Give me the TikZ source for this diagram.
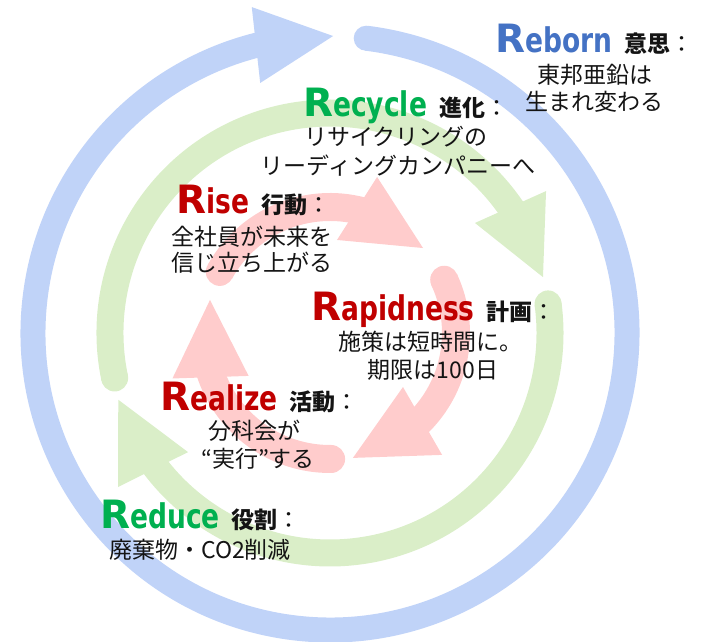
\documentclass[tikz,border=0pt]{standalone}
\usepackage{graphicx}
\usepackage{fontspec}
\newfontfamily\jpfont{Noto Sans CJK JP}
\newfontfamily\latfont{DejaVu Sans}
\definecolor{ringblue}{RGB}{192,211,248}
\definecolor{ringgreen}{RGB}{218,238,200}
\definecolor{ringred}{RGB}{255,204,204}
\definecolor{tblue}{RGB}{68,114,196}
\definecolor{tgreen}{RGB}{0,176,80}
\definecolor{tred}{RGB}{192,0,0}
\definecolor{tdark}{RGB}{20,20,20}
\newcommand\Rword[3]{{\color{#1}\latfont\bfseries\fontsize{39}{39}\selectfont R\scalebox{0.78}[1]{\fontsize{34}{34}\selectfont #2}}\hspace{12pt}{\jpfont\bfseries\fontsize{23}{23}\selectfont #3}{\jpfont\fontsize{23}{23}\selectfont ：}}
\newcommand\band[5]{%
  \draw[#1, line width=#3pt] (#4:#2) arc[start angle=#4, end angle=#5, radius=#2];
  \fill[#1] (#4:#2) circle[radius=#3/2];}
\begin{document}
\begin{tikzpicture}[x=1pt,y=1pt,
  jpline/.style={anchor=base, inner sep=0pt, font={\jpfont\fontsize{23}{23}\selectfont}, text=tdark},
  hdline/.style={anchor=base west, inner sep=0pt, text=tdark}]
\useasboundingbox (0,0) rectangle (701,641);
\begin{scope}[shift={(330,308)}]
  % blue outer ring
  \band{ringblue}{297}{25}{83}{-257}
  \fill[ringblue] (89.4:297) -- (103.5:335.2) -- (105.6:259.6) -- cycle;
  % green ring
  \band{ringgreen}{220}{27}{191.8}{33.5}
  \fill[ringgreen] (14.7:220.2) -- (33.3:258.5) -- (37.2:182) -- cycle;
  \band{ringgreen}{220}{27}{7.6}{-145.5}
  \fill[ringgreen] (-162.5:222) -- (-144:262) -- (-140:185.3) -- cycle;
  % red ring
  \band{ringred}{126}{28}{151}{75}
  \fill[ringred] (42.4:126) -- (73.2:163) -- (85.7:93.3) -- cycle;
  \band{ringred}{126}{28}{25}{-46}
  \fill[ringred] (-79.6:127) -- (-47.4:165.6) -- (-36.5:90.8) -- cycle;
  \band{ringred}{126}{28}{270.5}{198}
  \fill[ringred] (164.6:124.5) -- (196.1:164) -- (207.8:92) -- cycle;
\end{scope}
% Reborn
\node[hdline] (rebornH) at (495,588) {\Rword{tblue}{eborn}{意思}};
\node[jpline] (rebornA) at (595,557.6) {東邦亜鉛は};
\node[jpline] (rebornB) at (594,530) {生まれ変わる};
% Recycle
\node[hdline] (recycleH) at (303,524) {\Rword{tgreen}{ecycle}{進化}};
\node[jpline] (recycleA) at (396,495) {リサイクリングの};
\node[jpline] (recycleB) at (398,466) {リーディングカンパニーへ};
% Rise
\node[hdline] (riseH) at (176,428) {\Rword{tred}{ise}{行動}};
\node[jpline] (riseA) at (252,395.5) {全社員が未来を};
\node[jpline] (riseB) at (252,369.5) {信じ立ち上がる};
% Rapidness
\node[hdline] (rapidH) at (311,321) {\Rword{tred}{apidness}{計画}};
\node[jpline] (rapidA) at (430,290.5) {施策は短時間に。};
\node[jpline] (rapidB) at (433,262.5) {期限は100日};
% Realize
\node[hdline] (realizeH) at (160,231) {\Rword{tred}{ealize}{活動}};
\node[jpline] (realizeA) at (254,201.5) {分科会が};
\node[jpline] (realizeB) at (258,173.5) {“実行”する};
% Reduce
\node[hdline] (reduceH) at (100,113) {\Rword{tgreen}{educe}{役割}};
\node[jpline] (reduceA) at (200,82.5) {廃棄物・CO2削減};
\end{tikzpicture}
\end{document}
